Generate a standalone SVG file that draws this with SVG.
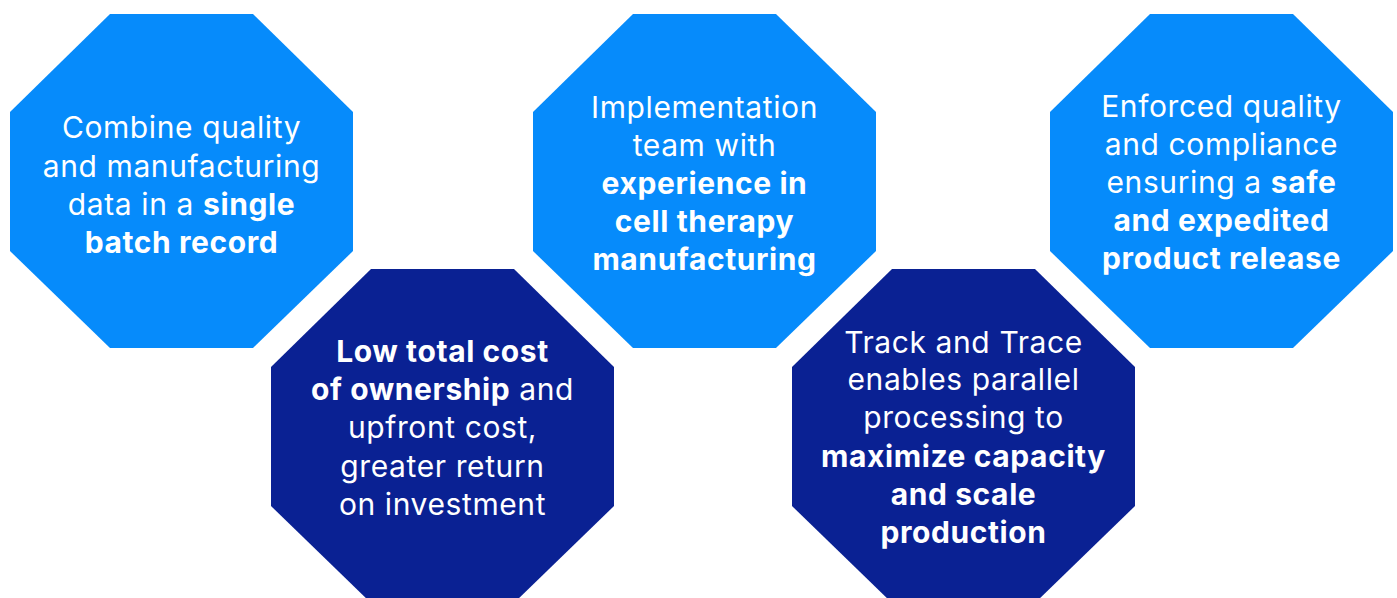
<svg xmlns="http://www.w3.org/2000/svg" width="1397" height="598" viewBox="0 0 1397 598">
<style>
.light{fill:#068BFB}
.dark{fill:#0A2193}
text{font-family:Inter,"Noto Sans","Liberation Sans",sans-serif;font-size:30px;letter-spacing:0.6px;fill:#fff;text-anchor:middle}
.b{font-weight:700}
</style>
<defs>
<polygon id="oct" points="100,0 243,0 343,98 343,237 243,334 100,334 0,237 0,98"/>
</defs>
<rect width="1397" height="598" fill="#fff"/>
<g id="node1">
<use href="#oct" class="light" x="10" y="14"/>
<text x="181.5" y="138">Combine quality</text>
<text x="181.5" y="177">and manufacturing</text>
<text x="181.5" y="215">data in a <tspan class="b">single</tspan></text>
<text x="181.5" y="253" class="b">batch record</text>
</g>
<g id="node2">
<use href="#oct" class="dark" x="271" y="269"/>
<text x="442.5" y="362" class="b">Low total cost</text>
<text x="442.5" y="400"><tspan class="b">of ownership</tspan> and</text>
<text x="442.5" y="438">upfront cost,</text>
<text x="442.5" y="477">greater return</text>
<text x="442.5" y="515">on investment</text>
</g>
<g id="node3">
<use href="#oct" class="light" x="533" y="14"/>
<text x="704.5" y="118">Implementation</text>
<text x="704.5" y="156">team with</text>
<text x="704.5" y="194" class="b">experience in</text>
<text x="704.5" y="232" class="b">cell therapy</text>
<text x="704.5" y="270" class="b">manufacturing</text>
</g>
<g id="node4">
<use href="#oct" class="dark" x="792" y="269"/>
<text x="963.5" y="353">Track and Trace</text>
<text x="963.5" y="390">enables parallel</text>
<text x="963.5" y="428">processing to</text>
<text x="963.5" y="467" class="b">maximize capacity</text>
<text x="963.5" y="505" class="b">and scale</text>
<text x="963.5" y="543" class="b">production</text>
</g>
<g id="node5">
<use href="#oct" class="light" x="1050" y="14"/>
<text x="1221.5" y="117">Enforced quality</text>
<text x="1221.5" y="155">and compliance</text>
<text x="1221.5" y="193">ensuring a <tspan class="b">safe</tspan></text>
<text x="1221.5" y="231" class="b">and expedited</text>
<text x="1221.5" y="269" class="b">product release</text>
</g>
<g id="connectors"/>
</svg>
